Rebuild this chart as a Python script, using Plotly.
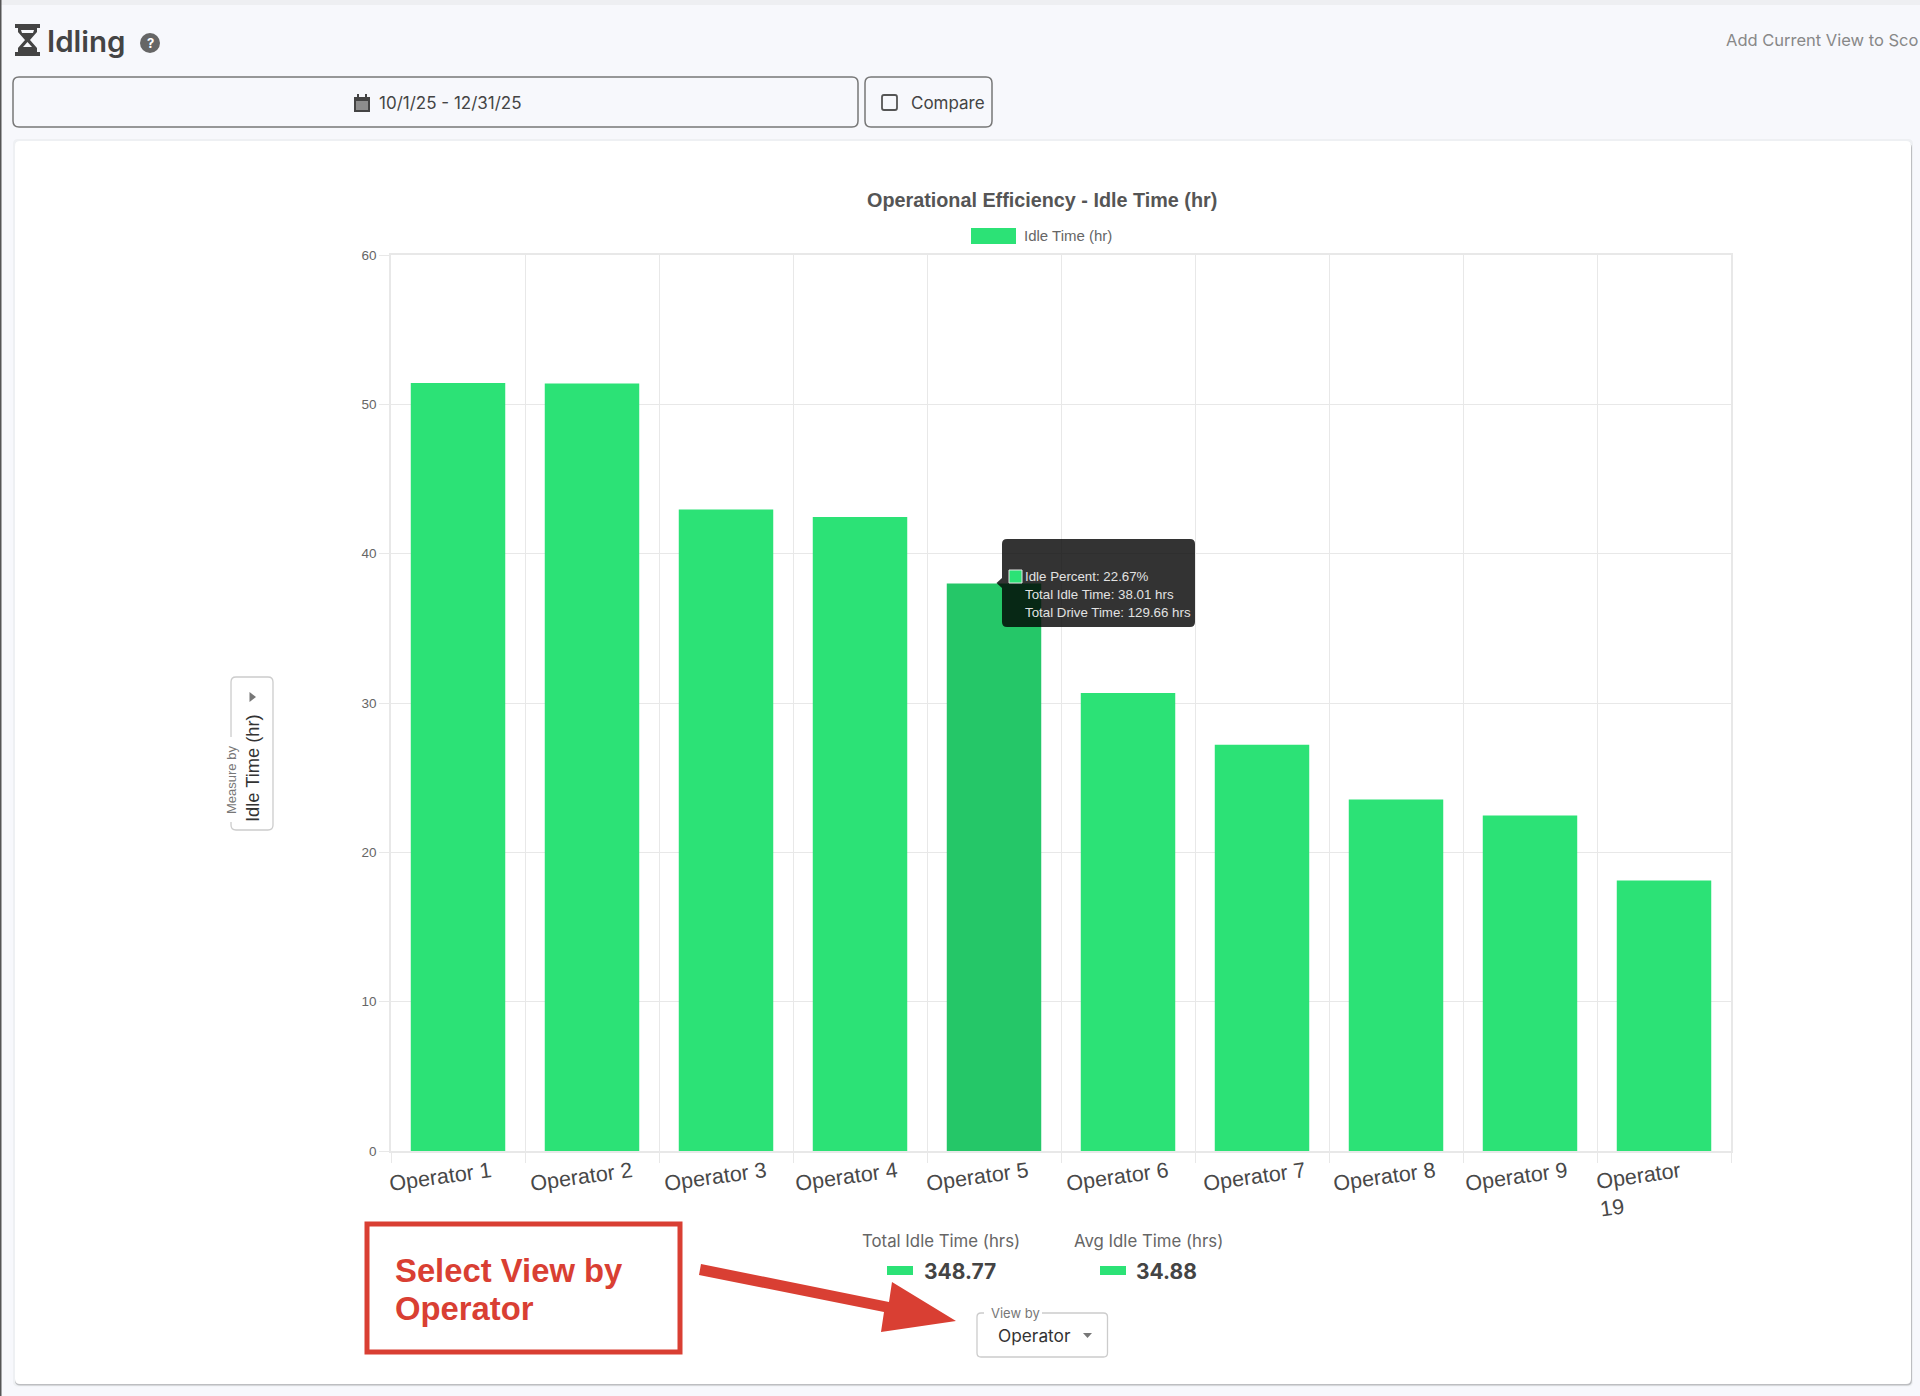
import plotly.graph_objects as go

operators = ["Operator 1", "Operator 2", "Operator 3", "Operator 4", "Operator 5",
             "Operator 6", "Operator 7", "Operator 8", "Operator 9", "Operator 19"]
idle_hours = [51.43, 51.39, 42.95, 42.46, 38.01, 30.67, 27.2, 23.53, 22.47, 18.12]
y_ticks = [0, 10, 20, 30, 40, 50, 60]
highlighted = "Operator 5"
tooltip_lines = ["Idle Percent: 22.67%", "Total Idle Time: 38.01 hrs", "Total Drive Time: 129.66 hrs"]
total_idle = "348.77"
avg_idle = "34.88"

W, H = 1920, 1396
L, R, T, B = 391, 1731, 255, 1151
GREEN, GREEN_DARK, RED = "#2ce276", "#25c768", "#d93f33"
GRID = "#e8e8e8"
UI = "Inter, sans-serif"
CHART = "Liberation Sans, Arial, sans-serif"


def fx(x):
    return (x - L) / (R - L)


def fy(y):
    return (B - y) / (B - T)


def poly(points, fill, line=None, lw=0, layer="above"):
    d = "M" + " L".join(f"{fx(x):.5f},{fy(y):.5f}" for x, y in points) + " Z"
    return dict(type="path", xref="paper", yref="paper", path=d, fillcolor=fill,
                line=dict(color=line or "rgba(0,0,0,0)", width=lw), layer=layer)


def rrect(x0, y0, x1, y1, r, fill, line=None, lw=0, layer="above"):
    P = lambda x, y: f"{fx(x):.5f},{fy(y):.5f}"
    d = (f"M{P(x0+r,y0)} L{P(x1-r,y0)} Q{P(x1,y0)} {P(x1,y0+r)} L{P(x1,y1-r)} Q{P(x1,y1)} {P(x1-r,y1)} "
         f"L{P(x0+r,y1)} Q{P(x0,y1)} {P(x0,y1-r)} L{P(x0,y0+r)} Q{P(x0,y0)} {P(x0+r,y0)} Z")
    return dict(type="path", xref="paper", yref="paper", path=d, fillcolor=fill,
                line=dict(color=line or "rgba(0,0,0,0)", width=lw), layer=layer)


def rect(x0, y0, x1, y1, fill, line=None, lw=0, layer="above"):
    return dict(type="rect", xref="paper", yref="paper", x0=fx(x0), x1=fx(x1), y0=fy(y0), y1=fy(y1),
                fillcolor=fill, line=dict(color=line or "rgba(0,0,0,0)", width=lw), layer=layer)


def text(x, y, s, size, color, anchor="left", family=UI, weight=400, angle=0):
    return dict(xref="paper", yref="paper", x=fx(x), y=fy(y), text=s, showarrow=False,
                xanchor=anchor, yanchor="middle", textangle=angle, align="left",
                font=dict(size=size, color=color, family=family, weight=weight))


shapes = [
    rect(0, 0, W, 5, "#eeeff2", layer="below"),
    rect(0, 0, 1.5, H, "#555555", layer="below"),
    rrect(13, 139, 1913, 1386.5, 5, "#eef0f3", layer="below"),
    rrect(15, 143, 1912, 1385.5, 5, "#bdbec1", layer="below"),
    rrect(15, 141, 1911, 1384, 5, "#ffffff", layer="below"),
    # hourglass
    rect(15, 24, 40, 28, "#444444"), rect(15, 52, 40, 56, "#444444"),
    poly([(18, 28), (37, 28), (37, 32), (30, 40), (37, 48), (37, 52), (18, 52), (18, 48), (25, 40), (18, 32)], "#444444"),
    poly([(21, 30), (34, 30), (33, 33), (22, 33)], "#f7f8fc"),
    poly([(27.5, 42), (32, 47), (23, 47)], "#f7f8fc"),
    dict(type="circle", xref="paper", yref="paper", x0=fx(140), x1=fx(160), y0=fy(33), y1=fy(53),
         fillcolor="#666666", line=dict(width=0)),
    # header controls
    rrect(13, 77, 858, 127, 6, "rgba(0,0,0,0)", "#777777", 1.5),
    rrect(865, 77, 992, 127, 6, "rgba(0,0,0,0)", "#777777", 1.5),
    rect(354, 97, 370, 112, "#444444"), rect(357, 94, 359, 98, "#444444"), rect(365, 94, 367, 98, "#444444"),
    rect(356, 101, 368, 110, "#8d8d8d"),
    rrect(882, 95, 897, 110, 2, "rgba(0,0,0,0)", "#555555", 1.8),
    # measure-by selector
    rrect(231, 677, 273, 830, 5, "rgba(0,0,0,0)", "#cccccc", 1.3),
    rect(228, 737, 234, 822, "#ffffff"),
    poly([(249.5, 692), (256, 697), (249.5, 702)], "#777777"),
    # tooltip
    rrect(1002, 539, 1195, 627, 5, "rgba(0,0,0,0.8)"),
    poly([(996.5, 583), (1002, 578), (1002, 588)], "rgba(0,0,0,0.8)"),
    rect(1009, 570, 1022, 583, GREEN, "#e5e5e5", 1),
    # chart legend
    rect(971, 228, 1016, 244, GREEN),
    # summary swatches
    rect(887, 1266, 913, 1275, GREEN), rect(1100, 1266, 1126, 1275, GREEN),
    # view-by selector
    rrect(977, 1313, 1107.5, 1357, 4, "rgba(0,0,0,0)", "#cccccc", 1.3),
    rect(984, 1309, 1042, 1317, "#ffffff"),
    poly([(1083, 1333), (1092, 1333), (1087.5, 1338)], "#777777"),
    # callout
    rect(367, 1224, 680, 1352, "rgba(0,0,0,0)", RED, 5),
    poly([(701, 1264), (889, 1302), (892, 1282), (956, 1321), (881, 1332), (884, 1312), (699, 1275)], RED),
]

label_shift = [-18, -11, -11, -14, -17, -11, -8, -12, -14]

annotations = [
    text(45, 41, "Idling", 29.5, "#444444", weight=600),
    text(150, 43.5, "?", 13, "#ffffff", "center", weight=700),
    text(377, 103, "10/1/25 - 12/31/25", 17, "#444444"),
    text(909, 103, "Compare", 17, "#444444"),
    text(1919.5, 40, "Add Current View to Sco", 16.5, "#888888", "right"),
    text(1042, 200, "Operational Efficiency - Idle Time (hr)", 19.8, "#555555", "center", CHART, 700),
    text(1022, 236, "Idle Time (hr)", 15, "#666666", family=CHART),
    text(231, 780, "Measure by", 13, "#777777", "center", CHART, angle=-90),
    text(252, 768, "Idle Time (hr)", 18.3, "#333333", "center", CHART, angle=-90),
    text(941, 1241, "Total Idle Time (hrs)", 16.8, "#666666", "center"),
    text(1148, 1241, "Avg Idle Time (hrs)", 16.8, "#666666", "center"),
    text(922, 1271, total_idle, 21, "#444444", weight=700),
    text(1134, 1271, avg_idle, 21, "#444444", weight=700),
    text(1015, 1313, "View by", 13, "#777777", "center"),
    text(996, 1335, "Operator", 17.3, "#333333"),
    text(393, 1270, "Select View by", 32.8, RED, family=CHART, weight=700),
    text(393, 1308, "Operator", 32.8, RED, family=CHART, weight=700),
]
for i, line in enumerate(tooltip_lines):
    annotations.append(text(1023, 576 + 18.2 * i, line, 13.3, "#e2e2e2", family=CHART))

# category labels (tilted, as the source chart draws them)
for name, shift in zip(operators, label_shift + [None]):
    if shift is None:
        annotations.append(dict(x=name, xref="x", y=fy(1190), yref="paper", text="Operator<br>19",
                                showarrow=False, xanchor="center", yanchor="middle", align="left",
                                xshift=-24, textangle=-8,
                                font=dict(size=21.5, color="#484848", family=CHART)))
    else:
        annotations.append(dict(x=name, xref="x", y=fy(1176.5), yref="paper", text=name,
                                showarrow=False, xanchor="center", yanchor="middle", xshift=shift,
                                textangle=-8, font=dict(size=21.5, color="#484848", family=CHART)))

fig = go.Figure(go.Bar(
    x=operators, y=idle_hours, width=0.705,
    marker=dict(color=[GREEN_DARK if o == highlighted else GREEN for o in operators], line=dict(width=0)),
    hoverinfo="skip",
))
fig.update_layout(
    width=W, height=H, autosize=False, showlegend=False,
    margin=dict(l=L, r=W - R, t=T, b=H - B, pad=0),
    paper_bgcolor="#f7f8fc", plot_bgcolor="rgba(0,0,0,0)",
    shapes=shapes, annotations=annotations,
    xaxis=dict(type="category", categoryorder="array", categoryarray=operators, tickson="boundaries",
               range=[-0.5, len(operators) - 0.5], autorange=False,
               showticklabels=False, ticks="outside", ticklen=10, tickcolor=GRID,
               showgrid=True, gridcolor=GRID, gridwidth=1.3,
               showline=True, linecolor=GRID, linewidth=1.5, mirror=True, zeroline=False),
    yaxis=dict(range=[0, 60], tickvals=y_ticks, ticks="outside", ticklen=10, tickcolor=GRID,
               showgrid=True, gridcolor=GRID, gridwidth=1.3,
               showline=True, linecolor=GRID, linewidth=1.5, mirror=True, zeroline=False,
               tickfont=dict(size=13.5, color="#666666", family=CHART)),
)
fig.write_html("out.html", config=dict(displayModeBar=False),
               post_script="document.body.style.margin='0';document.body.style.overflow='hidden';")
